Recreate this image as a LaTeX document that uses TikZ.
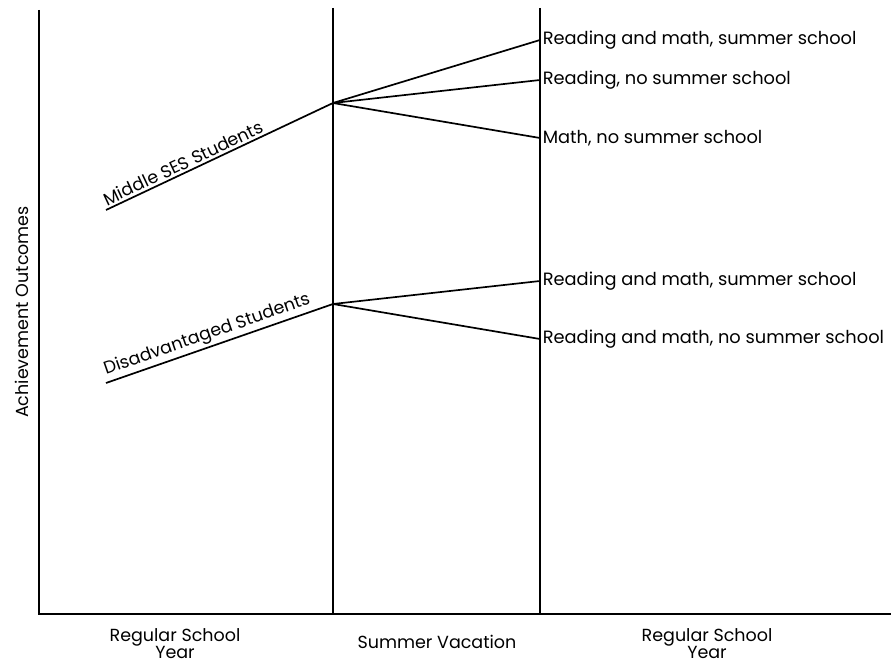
\documentclass[tikz,border=0pt]{standalone}
\usepackage{fontspec}
\setmainfont{Poppins}
\begin{document}
\begin{tikzpicture}[x=1pt,y=-1pt,line width=1.7pt,
    lab/.style={font=\fontsize{17.5}{17}\selectfont, inner sep=1pt},
    result/.style={font=\fontsize{17.8}{19}\selectfont, inner sep=2pt, anchor=west},
    grp/.style={lab, sloped, pos=0, anchor=south west, inner sep=2pt}]
        \useasboundingbox (0,0) rectangle (891,666);
        % Draw the axes
        \coordinate (top) at (39,10);
        \coordinate (origin) at (39,614);
        \coordinate (right) at (891,614);
        \draw (top) -- (origin) -- (right);
        \node[lab, rotate=90] (yaxis) at (22,312) {Achievement Outcomes};

        % Period lines
        \foreach \n/\x in {summer/333, regular/540} {
            \coordinate (\n top) at (\x,8);
            \coordinate (\n bot) at (\x,614);
            \draw (\n top) -- (\n bot);
        }

        % Period labels
        \node[lab, align=center] (yearA) at (175,644) {Regular School\\Year};
        \node[lab] (vacation) at (437,642) {Summer Vacation};
        \node[lab, align=center] (yearB) at (707,644) {Regular School\\Year};

        % Middle SES students
        \coordinate (mid0) at (106,210);
        \coordinate (mid1) at (333,103);
        \draw (mid0) -- node[grp] {Middle SES Students} (mid1);
        \foreach \n/\y/\t in {a/40/{Reading and math, summer school},
                              b/80/{Reading, no summer school},
                              c/138/{Math, no summer school}} {
            \coordinate (mid\n) at (540,\y);
            \node[result] (mid\n text) at (mid\n) {\t};
            \draw (mid1) -- (mid\n);
        }

        % Disadvantaged students
        \coordinate (dis0) at (106,383);
        \coordinate (dis1) at (333,304);
        \draw (dis0) -- node[grp] {Disadvantaged Students} (dis1);
        \foreach \n/\y/\t in {a/281/{Reading and math, summer school},
                              b/339/{Reading and math, no summer school}} {
            \coordinate (dis\n) at (540,\y);
            \node[result] (dis\n text) at (dis\n) {\t};
            \draw (dis1) -- (dis\n);
        }
    \end{tikzpicture}
\end{document}
